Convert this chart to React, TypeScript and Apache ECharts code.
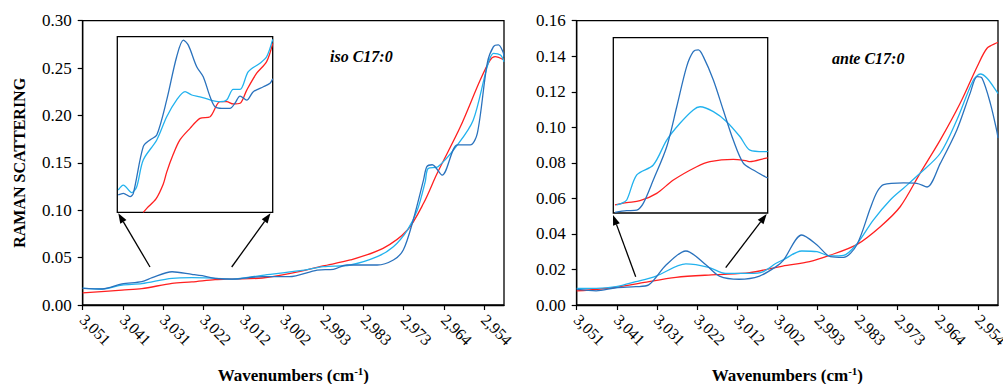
import { useEffect, useRef } from 'react';
import * as echarts from 'echarts';

const FONT = 'Liberation Serif';

// Wavenumber axis (reversed), tick positions and their printed labels
const X_MIN = 2949.15;
const X_MAX = 3051;
const TICK_POS = [3051, 3041.3, 3031.6, 3021.9, 3012.2, 3002.5, 2992.8, 2983.1, 2973.4, 2963.7, 2954];
const TICK_LABELS = ['3,051', '3,041', '3,031', '3,022', '3,012', '3,002', '2,993', '2,983', '2,973', '2,964', '2,954'];

// iso C17:0 panel: [wavenumber, Raman scattering]
const ISO_DARK = [
  [3051.0, 0.0176], [3046.3, 0.0169], [3041.5, 0.0222], [3036.7, 0.0246], [3034.2, 0.0288],
  [3029.4, 0.0351], [3024.6, 0.0324], [3022.1, 0.0309], [3019.0, 0.0282], [3014.9, 0.0274],
  [3007.6, 0.0299], [3001.1, 0.0299], [2994.3, 0.0369], [2990.4, 0.0377], [2987.1, 0.0422],
  [2979.8, 0.0422], [2975.9, 0.0475], [2973.5, 0.058], [2971.1, 0.0897], [2968.6, 0.132],
  [2967.8, 0.146], [2966.5, 0.148], [2964.1, 0.137], [2960.4, 0.169], [2957.3, 0.169],
  [2955.6, 0.181], [2953.2, 0.255], [2951.7, 0.2726], [2950.5, 0.2744], [2949.4, 0.2673],
  [2949.15, 0.262],
];
const ISO_LIGHT = [
  [3051.0, 0.0179], [3046.3, 0.0169], [3041.5, 0.0211], [3036.7, 0.0225], [3029.4, 0.0282],
  [3024.6, 0.0288], [3019.0, 0.0282], [3014.9, 0.0274], [3007.6, 0.0313], [2998.4, 0.0362],
  [2992.8, 0.0404], [2986.3, 0.0422], [2979.8, 0.051], [2975.9, 0.0615], [2972.5, 0.0791],
  [2970.1, 0.1002], [2968.2, 0.130], [2967.5, 0.144], [2965.1, 0.146], [2960.4, 0.169],
  [2956.6, 0.195], [2953.2, 0.2515], [2951.7, 0.2656], [2950.0, 0.2638], [2949.15, 0.2567],
];
const ISO_RED = [
  [3051.0, 0.0127], [3041.5, 0.0158], [3036.7, 0.0172], [3029.4, 0.0229], [3024.6, 0.0243],
  [3019.0, 0.0267], [3014.9, 0.0274], [3007.6, 0.0285], [3001.1, 0.0330], [2992.9, 0.0412],
  [2986.3, 0.0475], [2978.4, 0.0598], [2972.5, 0.0791], [2968.6, 0.1073], [2965.3, 0.139],
  [2959.7, 0.188], [2954.9, 0.2374], [2952.5, 0.2585], [2951.3, 0.262], [2949.15, 0.2585],
];

// ante C17:0 panel
const ANTE_DARK = [
  [3051.0, 0.0088], [3046.3, 0.0080], [3041.5, 0.0097], [3036.7, 0.0103], [3033.6, 0.0113],
  [3029.4, 0.0225], [3024.6, 0.0304], [3019.7, 0.0225], [3016.5, 0.0163], [3011.7, 0.0145],
  [3006.8, 0.0163], [3002.8, 0.0216], [3001.0, 0.0253], [2996.6, 0.0394], [2992.9, 0.0338],
  [2989.7, 0.0272], [2986.5, 0.0268], [2983.3, 0.0338], [2980.0, 0.0546], [2978.4, 0.0636],
  [2976.8, 0.0678], [2972.0, 0.0687], [2968.8, 0.0685], [2966.3, 0.0664], [2963.1, 0.0797],
  [2959.1, 0.0985], [2955.9, 0.1191], [2954.2, 0.1285], [2953.0, 0.1276], [2951.0, 0.1135],
  [2949.4, 0.0975], [2949.15, 0.094],
];
const ANTE_LIGHT = [
  [3051.0, 0.0094], [3046.3, 0.0094], [3041.5, 0.0103], [3036.7, 0.0131], [3031.8, 0.0163],
  [3024.6, 0.0231], [3019.1, 0.0212], [3015.0, 0.0178], [3009.2, 0.0178], [3006.0, 0.0187],
  [3002.8, 0.0235], [3001.0, 0.0255], [2996.6, 0.0304], [2992.9, 0.0300], [2989.7, 0.0276],
  [2986.5, 0.0279], [2983.3, 0.0343], [2979.3, 0.0478], [2975.2, 0.0591], [2972.0, 0.0657],
  [2968.0, 0.0741], [2963.1, 0.0854], [2959.1, 0.1041], [2955.1, 0.1266], [2953.4, 0.1300],
  [2951.8, 0.1276], [2949.4, 0.1200], [2949.15, 0.119],
];
const ANTE_RED = [
  [3051.0, 0.0079], [3041.5, 0.0100], [3035.0, 0.0126], [3027.0, 0.0156], [3017.3, 0.0171],
  [3009.2, 0.0182], [3001.2, 0.0219], [2994.7, 0.0244], [2989.9, 0.0279], [2983.3, 0.0340],
  [2977.6, 0.0441], [2972.8, 0.0553], [2968.0, 0.0741], [2963.1, 0.0929], [2958.3, 0.1135],
  [2954.2, 0.1341], [2951.8, 0.1445], [2949.4, 0.1476], [2949.15, 0.1477],
];

// Insets: [relative position %, relative intensity %]
const ISO_INSET_DARK = [
  [0.6, 9.9], [3.9, 10.8], [8.2, 8.9], [10.3, 10.8], [16.7, 37.4], [21.0, 41.2], [25.4, 44.0],
  [31.8, 64.0], [38.2, 88.6], [42.5, 98.1], [45.7, 95.2], [51.1, 82.9], [55.3, 77.2], [59.7, 65.8],
  [62.9, 60.1], [67.2, 59.2], [72.5, 59.2], [75.7, 62.1], [79.0, 66.2], [83.3, 63.9], [87.5, 68.7],
  [94.0, 71.5], [98.3, 73.5], [100, 76.1],
];
const ISO_INSET_LIGHT = [
  [0.6, 12.7], [3.9, 15.5], [9.3, 11.2], [12.5, 14.6], [16.7, 29.8], [25.4, 41.2], [31.8, 54.4],
  [38.2, 64.0], [43.6, 68.7], [47.9, 66.8], [53.2, 65.8], [59.7, 64.0], [66.1, 63.0], [70.4, 64.0],
  [74.6, 70.0], [79.0, 70.0], [84.3, 80.1], [91.8, 84.9], [96.1, 88.6], [100, 98.5],
];
const ISO_INSET_RED = [
  [16.7, 0], [19.1, 2.4], [24.9, 7.6], [29.6, 16.1], [31.8, 22.9], [35.8, 32.6], [40.3, 41.2],
  [46.8, 47.8], [53.2, 53.5], [59.7, 54.4], [66.1, 63.0], [70.4, 63.0], [74.6, 61.7], [79.0, 62.1],
  [83.3, 69.6], [89.7, 79.2], [96.1, 85.8], [100, 96.2],
];
const ANTE_INSET_DARK = [
  [1.1, 0.4], [8.7, 1.3], [15.2, 1.7], [19.4, 5.5], [25.9, 18.8], [34.6, 37.8], [41.1, 60.6],
  [47.5, 83.5], [51.8, 92.0], [55.1, 93.0], [58.3, 89.2], [64.8, 75.9], [71.2, 58.8], [77.7, 41.6],
  [84.2, 28.4], [90.7, 24.5], [98.3, 20.7], [100, 20.0],
];
const ANTE_INSET_LIGHT = [
  [2.2, 4.6], [5.4, 5.5], [8.7, 7.4], [15.2, 21.7], [25.9, 27.4], [34.6, 41.6], [43.2, 51.2],
  [51.8, 58.8], [56.2, 60.6], [64.8, 57.8], [73.4, 52.1], [82.1, 43.5], [88.5, 35.9], [98.3, 35.0],
  [100, 35.1],
];
const ANTE_INSET_RED = [
  [1.1, 4.6], [8.7, 5.9], [17.3, 7.0], [28.1, 11.2], [38.9, 18.8], [54.0, 26.4], [62.6, 29.3],
  [77.7, 30.6], [86.4, 29.7], [88.5, 29.3], [98.3, 31.2], [100, 31.4],
];

const C_DARK = '#2a72bd';
const C_LIGHT = '#22b2ee';
const C_RED = '#ff2020';

function arrow(x1: number, y1: number, x2: number, y2: number) {
  const ang = Math.atan2(y2 - y1, x2 - x1);
  const L = 10, W = 3.6;
  const bx = x2 - L * Math.cos(ang), by = y2 - L * Math.sin(ang);
  const px = -Math.sin(ang) * W, py = Math.cos(ang) * W;
  return [
    { type: 'line', shape: { x1, y1, x2: bx, y2: by }, style: { stroke: '#000', lineWidth: 1.3 } },
    { type: 'polygon', shape: { points: [[x2, y2], [bx + px, by + py], [bx - px, by - py]] }, style: { fill: '#000' } },
  ];
}

function tickLabel(v: number) {
  for (let i = 0; i < TICK_POS.length; i++) {
    if (Math.abs(TICK_POS[i] - v) < 0.05) return TICK_LABELS[i];
  }
  return '';
}

export default function App() {
  const ref = useRef<HTMLDivElement>(null);
  useEffect(() => {
    if (!ref.current) return;
    const chart = echarts.init(ref.current, undefined, { renderer: 'svg' });

    const mainX = (gridIndex: number) => ({
      type: 'value', gridIndex, min: X_MIN, max: X_MAX, inverse: true,
      axisLine: { show: true, onZero: false, lineStyle: { color: '#000', width: 1.3 } },
      axisTick: { show: true, length: 5, customValues: TICK_POS, lineStyle: { color: '#000', width: 1.2 } },
      axisLabel: {
        customValues: TICK_POS, rotate: -45, margin: 12, fontSize: 16, fontFamily: FONT, color: '#000',
        formatter: (v: number) => tickLabel(v),
      },
      splitLine: { show: false },
      name: '{a|Wavenumbers (cm}{s|-1}{a|)}',
      nameLocation: 'middle', nameGap: 60,
      nameTextStyle: {
        rich: {
          a: { fontSize: 17, fontWeight: 'bold', fontFamily: FONT, color: '#000', lineHeight: 20 },
          s: { fontSize: 11, fontWeight: 'bold', fontFamily: FONT, color: '#000', verticalAlign: 'top', lineHeight: 12 },
        },
      },
    });
    const mainY = (gridIndex: number, max: number, interval: number, name?: string) => ({
      type: 'value', gridIndex, min: 0, max, interval,
      axisLine: { show: true, onZero: false, lineStyle: { color: '#000', width: 1.3 } },
      axisTick: { show: true, length: 5, lineStyle: { color: '#000', width: 1.2 } },
      axisLabel: { fontSize: 17, fontFamily: FONT, color: '#000', margin: 11, formatter: (v: number) => v.toFixed(2) },
      splitLine: { show: false },
      name: name || '',
      nameLocation: 'middle', nameGap: 55,
      nameTextStyle: { fontSize: 16, fontWeight: 'bold', fontFamily: FONT, color: '#000' },
    });
    const insetAxis = (gridIndex: number) => ({
      type: 'value', gridIndex, min: 0, max: 100, show: false,
    });
    const line = (data: number[][], color: string, xi: number, yi: number) => ({
      type: 'line', data, xAxisIndex: xi, yAxisIndex: yi, showSymbol: false, smooth: 0.3,
      lineStyle: { color, width: 1.3 }, itemStyle: { color }, silent: true,
    });
    const g = (left: number, top: number, width: number, height: number) => ({
      left, top, width, height, show: true, borderColor: '#000', borderWidth: 1.3,
      outerBoundsMode: 'none', containLabel: false,
    });

    const option: any = {
      animation: false,
      backgroundColor: '#fff',
      textStyle: { fontFamily: FONT },
      grid: [
        g(82.7, 20.7, 421.3, 284.3),
        g(576.7, 20.7, 421.3, 284.3),
        g(117.3, 36.7, 155.4, 175.6),
        g(613.3, 37.7, 154.4, 175.3),
      ],
      xAxis: [mainX(0), mainX(1), insetAxis(2), insetAxis(3)],
      yAxis: [mainY(0, 0.3, 0.05, 'RAMAN SCATTERING'), mainY(1, 0.16, 0.02), insetAxis(2), insetAxis(3)],
      series: [
        line(ISO_RED, C_RED, 0, 0), line(ISO_LIGHT, C_LIGHT, 0, 0), line(ISO_DARK, C_DARK, 0, 0),
        line(ANTE_RED, C_RED, 1, 1), line(ANTE_LIGHT, C_LIGHT, 1, 1), line(ANTE_DARK, C_DARK, 1, 1),
        line(ISO_INSET_RED, C_RED, 2, 2), line(ISO_INSET_LIGHT, C_LIGHT, 2, 2), line(ISO_INSET_DARK, C_DARK, 2, 2),
        line(ANTE_INSET_RED, C_RED, 3, 3), line(ANTE_INSET_LIGHT, C_LIGHT, 3, 3), line(ANTE_INSET_DARK, C_DARK, 3, 3),
      ],
      graphic: [
        {
          type: 'text', left: 330, top: 48,
          style: { text: 'iso C17:0', fontSize: 16, fontWeight: 'bold', fontStyle: 'italic', fontFamily: FONT, fill: '#000' },
        },
        {
          type: 'text', left: 832, top: 50,
          style: { text: 'ante C17:0', fontSize: 16, fontWeight: 'bold', fontStyle: 'italic', fontFamily: FONT, fill: '#000' },
        },
        ...arrow(150, 267, 118.3, 213.3),
        ...arrow(231.7, 267, 270.5, 213.3),
        ...arrow(635.7, 276.7, 613, 215),
        ...arrow(725.7, 267.7, 766.7, 214),
      ],
    };
    chart.setOption(option);
    return () => chart.dispose();
  }, []);
  return <div ref={ref} style={{ position: 'absolute', left: 0, top: 0, width: 1003, height: 384 }} />;
}
